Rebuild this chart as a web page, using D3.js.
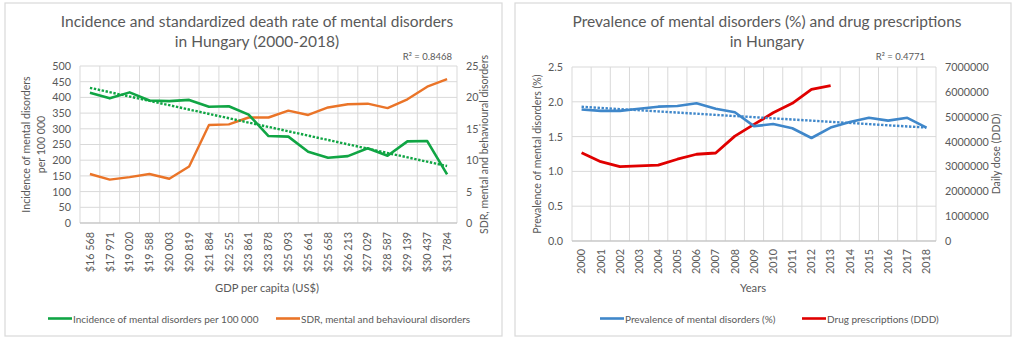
<!DOCTYPE html>
<html>
<head>
<meta charset="utf-8">
<script src="https://cdn.jsdelivr.net/npm/d3@7"></script>
<style>
  body { margin: 0; background: #fff; }
  svg { font-family: Lato, "Open Sans", sans-serif; }
  .tick text { fill: #595959; }
</style>
</head>
<body>
<script>
// left chart data
var gdpLabels = ["$16 568", "$17 971", "$19 020", "$19 588", "$20 003", "$20 819", "$21 884", "$22 525",
  "$23 861", "$23 878", "$25 093", "$25 661", "$25 658", "$26 213", "$27 029", "$28 587",
  "$29 139", "$30 437", "$31 784"];
var incidence = [415, 397, 416, 390, 388, 392, 370, 372, 345, 277, 275, 227, 208, 213, 238, 214, 260, 261, 155];
var sdr = [7.8, 6.9, 7.3, 7.8, 7.05, 9.0, 15.6, 15.7, 16.8, 16.8, 17.9, 17.2, 18.4, 18.9, 19.0, 18.3, 19.7, 21.7, 22.9];

// right chart data
var years = ["2000", "2001", "2002", "2003", "2004", "2005", "2006", "2007", "2008", "2009",
  "2010", "2011", "2012", "2013", "2014", "2015", "2016", "2017", "2018"];
var prevalence = [1.89, 1.87, 1.87, 1.90, 1.93, 1.94, 1.98, 1.90, 1.85, 1.65, 1.68, 1.62, 1.48, 1.63, 1.71, 1.77, 1.73, 1.77, 1.63];
var drugDDD = [3550000, 3190000, 2990000, 3020000, 3050000, 3290000, 3490000, 3540000, 4220000, 4690000,
  5160000, 5540000, 6100000, 6250000, null, null, null, null, null];

var leftTicks = d3.range(0, 501, 50);
var sdrTicks = d3.range(0, 26, 5);
var prevTicks = d3.range(0, 2.51, 0.5);
var dddTicks = d3.range(0, 7000001, 1000000);

var grey = "#595959", gridCol = "#d9d9d9";

var svg = d3.select("body").append("svg")
  .attr("width", 1020)
  .attr("height", 342);

// least squares line over category index (excel style trendline)
function trend(vals) {
  var pts = vals.map(function(v, i) { return [i, v]; }).filter(function(p) { return p[1] != null; });
  var mx = d3.mean(pts, function(p) { return p[0]; }), my = d3.mean(pts, function(p) { return p[1]; });
  var sxy = d3.sum(pts, function(p) { return (p[0] - mx) * (p[1] - my); });
  var sxx = d3.sum(pts, function(p) { return (p[0] - mx) * (p[0] - mx); });
  var b = sxy / sxx, a = my - b * mx;
  return vals.map(function(v, i) { return a + b * i; });
}

function drawChart(o) {
  var g = svg.append("g");

  // panel frame
  g.append("rect")
    .attr("x", o.frame[0]).attr("y", o.frame[1])
    .attr("width", o.frame[2]).attr("height", o.frame[3])
    .attr("fill", "#fff").attr("stroke", gridCol).attr("stroke-width", 1.2);

  var x = d3.scaleBand().domain(o.cats).range([o.left, o.right]).padding(0);
  var y1 = d3.scaleLinear().domain(o.y1Domain).range([o.bottom, o.top]);
  var y2 = d3.scaleLinear().domain(o.y2Domain).range([o.bottom, o.top]);
  var cx = function(i) { return x(o.cats[i]) + x.bandwidth() / 2; };

  // gridlines
  g.append("g").selectAll("line").data(o.y1Ticks).join("line")
    .attr("x1", o.left).attr("x2", o.right)
    .attr("y1", function(d) { return y1(d); }).attr("y2", function(d) { return y1(d); })
    .attr("stroke", gridCol).attr("stroke-width", 1);
  g.append("g").selectAll("line").data(d3.range(o.cats.length + 1)).join("line")
    .attr("x1", function(i) { return o.left + i * x.bandwidth(); })
    .attr("x2", function(i) { return o.left + i * x.bandwidth(); })
    .attr("y1", o.top).attr("y2", o.bottom)
    .attr("stroke", gridCol).attr("stroke-width", 1);

  // axes
  var ax1 = g.append("g").attr("transform", "translate(" + o.left + ",0)")
    .call(d3.axisLeft(y1).tickValues(o.y1Ticks).tickFormat(o.y1Fmt).tickSize(0).tickPadding(9));
  var ax2 = g.append("g").attr("transform", "translate(" + o.right + ",0)")
    .call(d3.axisRight(y2).tickValues(o.y2Ticks).tickFormat(o.y2Fmt).tickSize(0).tickPadding(9));
  var axx = g.append("g").attr("transform", "translate(0," + o.bottom + ")")
    .call(d3.axisBottom(x).tickSize(0).tickPadding(0));
  [ax1, ax2, axx].forEach(function(a) {
    a.select(".domain").remove();
    a.selectAll("text").attr("font-size", 10.8).attr("font-family", "Lato, sans-serif");
  });
  g.append("line").attr("x1", o.left).attr("x2", o.right)
    .attr("y1", o.bottom).attr("y2", o.bottom).attr("stroke", "#bfbfbf");
  axx.selectAll("text")
    .attr("transform", "rotate(-90)")
    .attr("text-anchor", "end")
    .attr("x", -o.xLabelGap).attr("y", 0).attr("dy", "0.35em");

  // series
  var line1 = d3.line()
    .x(function(d, i) { return cx(i); })
    .y(function(d) { return y1(d); });
  var line2 = d3.line()
    .defined(function(d) { return d != null; })
    .x(function(d, i) { return cx(i); })
    .y(function(d) { return y2(d); });

  g.append("path").datum(o.s2).attr("d", line2)
    .attr("fill", "none").attr("stroke", o.c2).attr("stroke-width", o.w2).attr("stroke-linejoin", "round");
  g.append("path").datum(o.s1).attr("d", line1)
    .attr("fill", "none").attr("stroke", o.c1).attr("stroke-width", 2.6).attr("stroke-linejoin", "round");
  var t = trend(o.s1);
  g.append("path").datum([t[0], t[t.length - 1]])
    .attr("d", d3.line().x(function(d, i) { return cx(i * (t.length - 1)); }).y(function(d) { return y1(d); }))
    .attr("fill", "none").attr("stroke", o.c1).attr("stroke-width", 2.4).attr("stroke-dasharray", "2.4,1.6");

  // texts
  var title = g.append("text").attr("text-anchor", "middle").attr("fill", grey).attr("font-size", 15.5);
  o.title.forEach(function(s, i) {
    title.append("tspan").attr("x", o.titleX).attr("y", 27 + i * 20).text(s);
  });
  g.append("text").attr("x", o.r2X).attr("y", 60).attr("text-anchor", "end")
    .attr("fill", grey).attr("font-size", 9.5).text(o.r2);

  var yt = g.append("text").attr("text-anchor", "middle").attr("fill", grey).attr("font-size", 10.6)
    .attr("transform", "translate(" + o.y1TitleX + "," + (o.top + o.bottom) / 2 + ") rotate(-90)");
  o.y1Title.forEach(function(s, i) {
    yt.append("tspan").attr("x", 0).attr("y", i * 14.5).text(s);
  });
  g.append("text").attr("text-anchor", "middle").attr("fill", grey).attr("font-size", 10.6)
    .attr("transform", "translate(" + o.y2TitleX + "," + (o.top + o.bottom) / 2 + ") rotate(-90)")
    .text(o.y2Title);
  g.append("text").attr("x", o.xTitleX).attr("y", 292).attr("text-anchor", "middle")
    .attr("fill", grey).attr("font-size", 11.2).text(o.xTitle);

  // legend
  o.legend.forEach(function(l) {
    g.append("line").attr("x1", l.x).attr("x2", l.x + 24).attr("y1", 318.5).attr("y2", 318.5)
      .attr("stroke", l.c).attr("stroke-width", 2.6);
    g.append("text").attr("x", l.x + 25).attr("y", 322.5).attr("fill", grey)
      .attr("font-size", 10).text(l.t);
  });
}

drawChart({
  frame: [5, 3, 497, 333],
  cats: gdpLabels, left: 80, right: 457, top: 66, bottom: 223,
  y1Domain: [0, 500], y2Domain: [0, 25],
  y1Ticks: leftTicks, y2Ticks: sdrTicks,
  y1Fmt: d3.format("d"), y2Fmt: d3.format("d"),
  s1: incidence, s2: sdr, c1: "#10a544", c2: "#ea7428", w2: 2.4,
  xLabelGap: 9,
  title: ["Incidence and standardized death rate of mental disorders", "in Hungary (2000-2018)"],
  titleX: 257, r2: "R² = 0.8468", r2X: 452,
  y1Title: ["Incidence of mental disorders", "per 100 000"], y1TitleX: 30,
  y2Title: "SDR, mental and behavioural disorders", y2TitleX: 488,
  xTitle: "GDP per capita (US$)", xTitleX: 267,
  legend: [{x: 48, c: "#10a544", t: "Incidence of mental disorders per 100 000"},
           {x: 276, c: "#ea7428", t: "SDR, mental and behavioural disorders"}]
});

drawChart({
  frame: [515, 3, 496, 333],
  cats: years, left: 572, right: 936, top: 67, bottom: 241,
  y1Domain: [0, 2.5], y2Domain: [0, 7000000],
  y1Ticks: prevTicks, y2Ticks: dddTicks,
  y1Fmt: d3.format(".1f"), y2Fmt: d3.format("d"),
  s1: prevalence, s2: drugDDD, c1: "#3f87ca", c2: "#e00000", w2: 2.8,
  xLabelGap: 8,
  title: ["Prevalence of mental disorders (%) and drug prescriptions", "in Hungary"],
  titleX: 767, r2: "R² = 0.4771", r2X: 925,
  y1Title: ["Prevalence of mental disorders (%)"], y1TitleX: 541,
  y2Title: "Daily dose (DDD)", y2TitleX: 1000,
  xTitle: "Years", xTitleX: 753,
  legend: [{x: 600, c: "#3f87ca", t: "Prevalence of mental disorders (%)"},
           {x: 802, c: "#e00000", t: "Drug prescriptions (DDD)"}]
});
</script>
</body>
</html>
